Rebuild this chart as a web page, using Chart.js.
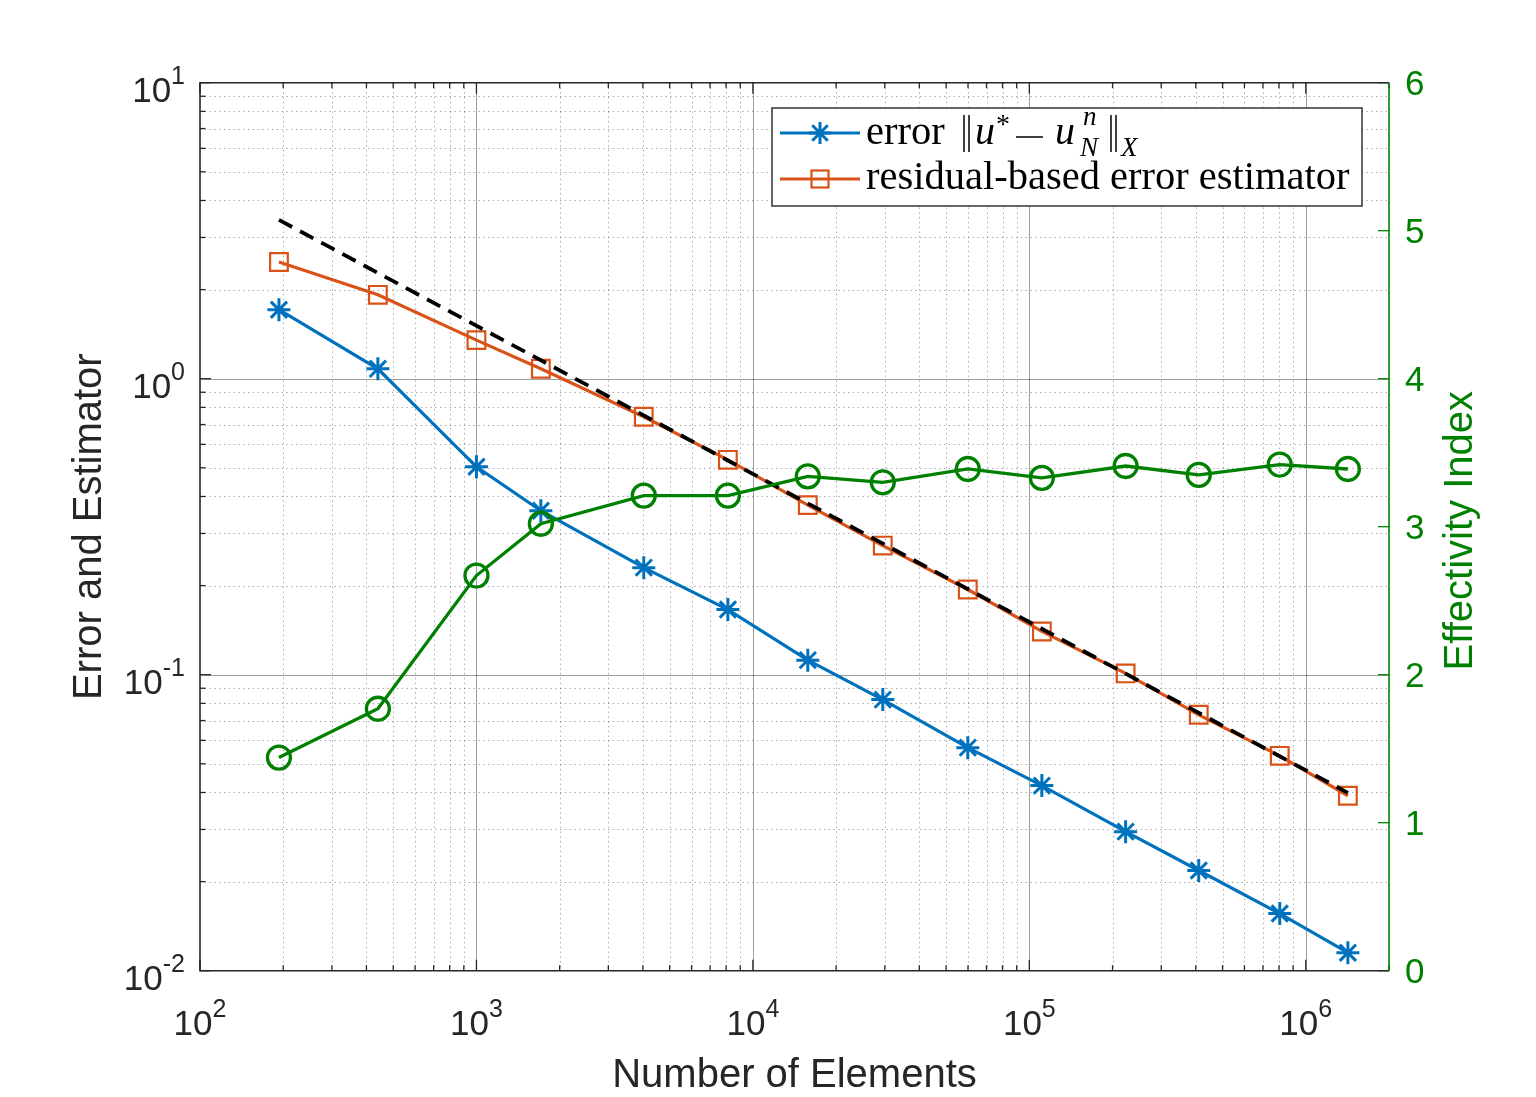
<!DOCTYPE html>
<html>
<head>
<meta charset="utf-8">
<script src="https://cdn.jsdelivr.net/npm/chart.js@4.4.1/dist/chart.umd.min.js"></script>
<style>
  html, body { margin: 0; padding: 0; background: #fff; }
  #wrap { width: 1536px; height: 1097px; }
</style>
</head>
<body>
<div id="wrap"><canvas id="chart"></canvas></div>
<script>
// values
const elements = [193, 440, 1000, 1710, 4030, 8120, 15800, 29500, 59900, 111000, 223000, 410000, 805000, 1420000];
const errorValues = [1.71, 1.08, 0.504, 0.358, 0.230, 0.166, 0.112, 0.0824, 0.0567, 0.0422, 0.0295, 0.0218, 0.0156, 0.0115];
const estimatorValues = [2.48, 1.92, 1.35, 1.08, 0.744, 0.532, 0.374, 0.273, 0.194, 0.140, 0.101, 0.0732, 0.0532, 0.0390];
const effectivityValues = [1.44, 1.77, 2.67, 3.02, 3.21, 3.21, 3.34, 3.30, 3.39, 3.33, 3.41, 3.35, 3.42, 3.39];

// slope -1/2 reference line
const refElements = [193, 1420000];
const refValues = [3.44, 0.0399];

// tick labels
const xTickExponents = [2, 3, 4, 5, 6];
const yTickExponents = [-2, -1, 0, 1];
const y2Ticks = [0, 1, 2, 3, 4, 5, 6];

const SANS = '"Liberation Sans", Arial, Helvetica, sans-serif';
const SERIF = '"Liberation Serif", "Times New Roman", serif';
const BLUE = "#0072BD";
const ORANGE = "#D95319";
const GREEN = "#008000";
const INK = "#262626";

function pairs(xs, ys) {
  return xs.map(function (x, i) { return { x: x, y: ys[i] }; });
}

// 1..9 x 10^k steps inside [min, max]
function logSteps(min, max) {
  const out = [];
  for (let e = Math.floor(Math.log10(min)); e <= Math.ceil(Math.log10(max)); e++) {
    for (let m = 1; m <= 9; m++) {
      const v = m * Math.pow(10, e);
      if (v >= min * 0.999 && v <= max * 1.001) out.push({ v: v, major: m === 1 });
    }
  }
  return out;
}

function drawStar(ctx, x, y, r) {
  ctx.beginPath();
  for (let k = 0; k < 4; k++) {
    const a = k * Math.PI / 4;
    ctx.moveTo(x - Math.cos(a) * r, y - Math.sin(a) * r);
    ctx.lineTo(x + Math.cos(a) * r, y + Math.sin(a) * r);
  }
  ctx.stroke();
}

function line(ctx, x1, y1, x2, y2) {
  ctx.beginPath();
  ctx.moveTo(x1, y1);
  ctx.lineTo(x2, y2);
  ctx.stroke();
}

// "10" with a raised exponent
function drawPow(ctx, exp, x, baseY, supY, align) {
  ctx.font = "35px " + SANS;
  const wb = ctx.measureText("10").width;
  ctx.font = "25px " + SANS;
  const ws = ctx.measureText(String(exp)).width;
  let left = x;
  if (align === "center") left = x - (wb + ws) / 2;
  if (align === "right") left = x - wb - ws;
  ctx.textAlign = "left";
  ctx.textBaseline = "alphabetic";
  ctx.font = "35px " + SANS;
  ctx.fillText("10", left, baseY);
  ctx.font = "25px " + SANS;
  ctx.fillText(String(exp), left + wb, supY);
}

const matlabAxes = {
  id: "matlabAxes",
  beforeDatasetsDraw(chart) {
    const ctx = chart.ctx;
    const a = chart.chartArea;
    const sx = chart.scales.x;
    const sy = chart.scales.y;
    const xs = logSteps(sx.min, sx.max);
    const ys = logSteps(sy.min, sy.max);
    ctx.save();
    ctx.lineWidth = 1;
    // minor grid, dotted
    ctx.strokeStyle = "rgba(0,0,0,0.34)";
    ctx.setLineDash([1.4, 3.4]);
    xs.forEach(function (t) {
      if (t.major) return;
      const px = Math.round(sx.getPixelForValue(t.v)) + 0.5;
      if (px > a.left + 1 && px < a.right - 1) line(ctx, px, a.top, px, a.bottom);
    });
    ys.forEach(function (t) {
      if (t.major) return;
      const py = Math.round(sy.getPixelForValue(t.v)) + 0.5;
      if (py > a.top + 1 && py < a.bottom - 1) line(ctx, a.left, py, a.right, py);
    });
    // major grid, solid
    ctx.setLineDash([]);
    ctx.strokeStyle = "rgba(0,0,0,0.38)";
    xs.forEach(function (t) {
      if (!t.major) return;
      const px = Math.round(sx.getPixelForValue(t.v)) + 0.5;
      if (px > a.left + 1 && px < a.right - 1) line(ctx, px, a.top, px, a.bottom);
    });
    ys.forEach(function (t) {
      if (!t.major) return;
      const py = Math.round(sy.getPixelForValue(t.v)) + 0.5;
      if (py > a.top + 1 && py < a.bottom - 1) line(ctx, a.left, py, a.right, py);
    });
    ctx.restore();
  },
  afterDatasetsDraw(chart) {
    const ctx = chart.ctx;
    const a = chart.chartArea;
    const sx = chart.scales.x;
    const sy = chart.scales.y;
    const sy2 = chart.scales.y1;
    ctx.save();

    // tick marks
    ctx.lineWidth = 1.3;
    ctx.strokeStyle = INK;
    logSteps(sx.min, sx.max).forEach(function (t) {
      const px = sx.getPixelForValue(t.v);
      const len = t.major ? 11 : 5.5;
      line(ctx, px, a.bottom, px, a.bottom - len);
      line(ctx, px, a.top, px, a.top + len);
    });
    logSteps(sy.min, sy.max).forEach(function (t) {
      const py = sy.getPixelForValue(t.v);
      const len = t.major ? 11 : 5.5;
      line(ctx, a.left, py, a.left + len, py);
    });
    ctx.strokeStyle = GREEN;
    y2Ticks.forEach(function (v) {
      const py = sy2.getPixelForValue(v);
      line(ctx, a.right, py, a.right - 11, py);
    });

    // box
    ctx.lineWidth = 1.6;
    ctx.strokeStyle = INK;
    ctx.beginPath();
    ctx.moveTo(a.right, a.top);
    ctx.lineTo(a.left, a.top);
    ctx.lineTo(a.left, a.bottom);
    ctx.lineTo(a.right, a.bottom);
    ctx.stroke();
    ctx.strokeStyle = GREEN;
    line(ctx, a.right, a.top, a.right, a.bottom);

    // tick labels
    ctx.fillStyle = INK;
    xTickExponents.forEach(function (e) {
      const px = sx.getPixelForValue(Math.pow(10, e));
      drawPow(ctx, e, px, a.bottom + 64, a.bottom + 46, "center");
    });
    yTickExponents.forEach(function (e) {
      const py = sy.getPixelForValue(Math.pow(10, e));
      drawPow(ctx, e, a.left - 15, py + 19.5, py + 1.5, "right");
    });
    ctx.fillStyle = GREEN;
    ctx.font = "35px " + SANS;
    ctx.textAlign = "left";
    ctx.textBaseline = "middle";
    y2Ticks.forEach(function (v) {
      ctx.fillText(String(v), a.right + 16, sy2.getPixelForValue(v) + 3);
    });

    // axis titles
    ctx.font = "40px " + SANS;
    ctx.textAlign = "center";
    ctx.textBaseline = "alphabetic";
    ctx.fillStyle = INK;
    ctx.fillText("Number of Elements", (a.left + a.right) / 2, 1087);
    ctx.save();
    ctx.translate(100.5, (a.top + a.bottom) / 2);
    ctx.rotate(-Math.PI / 2);
    ctx.fillText("Error and Estimator", 0, 0);
    ctx.restore();
    ctx.save();
    ctx.fillStyle = GREEN;
    ctx.translate(1472, (a.top + a.bottom) / 2 + 4);
    ctx.rotate(-Math.PI / 2);
    ctx.fillText("Effectivity Index", 0, 0);
    ctx.restore();

    // legend
    const L = { left: 772, top: 108, right: 1362, bottom: 206 };
    ctx.fillStyle = "#fff";
    ctx.fillRect(L.left, L.top, L.right - L.left, L.bottom - L.top);
    ctx.lineWidth = 1.4;
    ctx.strokeStyle = INK;
    ctx.strokeRect(L.left, L.top, L.right - L.left, L.bottom - L.top);

    const r1 = 133, r2 = 179;
    ctx.lineWidth = 3.2;
    ctx.strokeStyle = BLUE;
    line(ctx, 780, r1, 860, r1);
    ctx.lineWidth = 3;
    drawStar(ctx, 820, r1, 11);
    ctx.lineWidth = 3.2;
    ctx.strokeStyle = ORANGE;
    line(ctx, 780, r2, 860, r2);
    ctx.lineWidth = 2.2;
    ctx.strokeRect(811.5, r2 - 8.5, 17, 17);

    ctx.fillStyle = "#000";
    ctx.strokeStyle = "#000";
    ctx.textAlign = "left";
    ctx.textBaseline = "alphabetic";
    ctx.font = "40.5px " + SERIF;
    ctx.fillText("error", 866, 144);
    ctx.fillText("residual-based error estimator", 866, 189);
    // norm bars
    ctx.lineWidth = 1.5;
    [964, 969, 1111, 1116].forEach(function (bx) { line(ctx, bx, 115, bx, 152); });
    ctx.font = "italic 40px " + SERIF;
    ctx.fillText("u", 975, 144);
    ctx.fillText("u", 1055, 144);
    ctx.font = "28px " + SERIF;
    ctx.fillText("*", 996, 133);
    ctx.lineWidth = 1.5;
    line(ctx, 1016, 137, 1043, 137);
    ctx.font = "italic 27px " + SERIF;
    ctx.fillText("n", 1083, 125);
    ctx.fillText("N", 1080, 156);
    ctx.fillText("X", 1121, 156);

    ctx.restore();
  }
};

new Chart(document.getElementById("chart"), {
  type: "line",
  data: {
    datasets: [
      {
        label: "error",
        data: pairs(elements, errorValues),
        yAxisID: "y",
        borderColor: BLUE,
        borderWidth: 3.2,
        pointStyle: "star",
        pointRadius: 11.5,
        pointBorderWidth: 3,
        pointBorderColor: BLUE,
        pointBackgroundColor: BLUE,
        order: 3,
      },
      {
        label: "residual-based error estimator",
        data: pairs(elements, estimatorValues),
        yAxisID: "y",
        borderColor: ORANGE,
        borderWidth: 3.2,
        pointStyle: "rect",
        pointRadius: 12.5,
        pointBorderWidth: 2.2,
        pointBorderColor: ORANGE,
        pointBackgroundColor: "rgba(0,0,0,0)",
        order: 2,
      },
      {
        label: "reference",
        data: pairs(refElements, refValues),
        yAxisID: "y",
        borderColor: "#000",
        borderWidth: 3.8,
        borderDash: [15, 9],
        pointRadius: 0,
        order: 1,
      },
      {
        label: "effectivity index",
        data: pairs(elements, effectivityValues),
        yAxisID: "y1",
        borderColor: GREEN,
        borderWidth: 3.3,
        pointStyle: "circle",
        pointRadius: 11.5,
        pointBorderWidth: 3.3,
        pointBorderColor: GREEN,
        pointBackgroundColor: "rgba(0,0,0,0)",
        order: 0,
      },
    ],
  },
  options: {
    responsive: true,
    maintainAspectRatio: false,
    animation: false,
    events: [],
    layout: { padding: { left: 200, top: 82.7, right: 147, bottom: 126.3 } },
    plugins: { legend: { display: false }, tooltip: { enabled: false } },
    elements: { line: { tension: 0 } },
    scales: {
      x: { type: "logarithmic", min: 100, max: 2000000, display: false },
      y: { type: "logarithmic", min: 0.01, max: 10, display: false },
      y1: { type: "linear", min: 0, max: 6, position: "right", display: false },
    },
  },
  plugins: [matlabAxes],
});
</script>
</body>
</html>
